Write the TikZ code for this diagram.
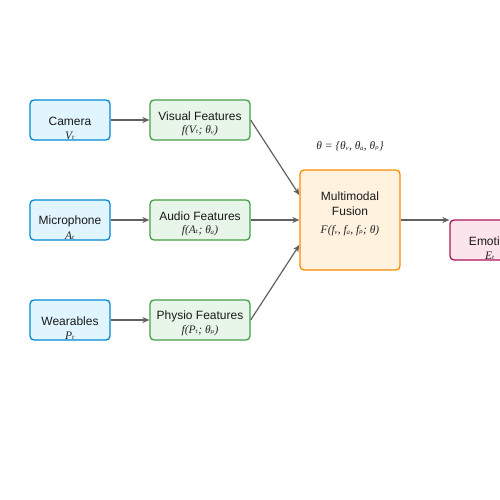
\documentclass[tikz,border=0pt]{standalone}
\usepackage{fontspec}
\setmainfont{Liberation Sans}
\newfontfamily\formfont{Liberation Serif}[ItalicFont={Liberation Serif Italic}]
\newfontfamily\subfont{DejaVu Sans}
\newcommand\subt{{\subfont\fontsize{9}{10}\selectfont ₜ}}
\newcommand\subp{{\subfont\fontsize{9}{10}\selectfont ₚ}}
\usetikzlibrary{arrows.meta}
\definecolor{inFill}{HTML}{E1F5FE}
\definecolor{inDraw}{HTML}{0288D1}
\definecolor{ftFill}{HTML}{E8F5E9}
\definecolor{ftDraw}{HTML}{43A047}
\definecolor{fuFill}{HTML}{FFF3E0}
\definecolor{fuDraw}{HTML}{FB8C00}
\definecolor{emFill}{HTML}{FCE4EC}
\definecolor{emDraw}{HTML}{AD1457}
\definecolor{arr}{HTML}{616161}
\tikzset{
  boxbase/.style={rectangle, rounded corners=4pt, line width=1.3pt, inner sep=0pt},
  inbox/.style={boxbase, draw=inDraw, fill=inFill, minimum width=80pt, minimum height=40pt},
  ftbox/.style={boxbase, draw=ftDraw, fill=ftFill, minimum width=100pt, minimum height=40pt},
  fubox/.style={boxbase, draw=fuDraw, fill=fuFill, minimum width=100pt, minimum height=100pt},
  embox/.style={boxbase, draw=emDraw, fill=emFill, minimum width=80pt, minimum height=40pt},
  lbl/.style={inner sep=0pt, font=\fontsize{12}{14}\selectfont, text=black!90},
  frm/.style={inner sep=0pt, font=\formfont\itshape\fontsize{11.5}{13}\selectfont, text=black!85},
  conn/.style={draw=arr, line width=1.2pt, -{Stealth[length=7pt,width=6pt]}}
}
\begin{document}
\begin{tikzpicture}[x=1pt,y=-1pt]
\useasboundingbox (0,0) rectangle (500,500);
\clip (0,0) rectangle (500,500);
% inputs
\node[inbox] (cam) at (70,120) {};
\node[inbox] (mic) at (70,220) {};
\node[inbox] (wear) at (70,320) {};
\node[lbl] (camT) at (70,121) {Camera};
\node[frm] (camS) at (70,136) {V\subt};
\node[lbl] (micT) at (70,221) {Microphone};
\node[frm] (micS) at (70,236) {A\subt};
\node[lbl] (wearT) at (70,321) {Wearables};
\node[frm] (wearS) at (70,336) {P\subt};
% features
\node[ftbox] (vis) at (200,120) {};
\node[ftbox] (aud) at (200,220) {};
\node[ftbox] (phy) at (200,320) {};
\node[lbl] (visT) at (200,116) {Visual Features};
\node[frm] (visS) at (200,131) {f(V\subt; θᵥ)};
\node[lbl] (audT) at (200,216) {Audio Features};
\node[frm] (audS) at (200,231) {f(A\subt; θₐ)};
\node[lbl] (phyT) at (200,316) {Physio Features};
\node[frm] (phyS) at (200,331) {f(P\subt; θ\subp)};
% fusion
\node[fubox] (fus) at (350,220) {};
\node[lbl] (fusT1) at (350,196) {Multimodal};
\node[lbl] (fusT2) at (350,211) {Fusion};
\node[frm] (fusS) at (350,231) {F(fᵥ, fₐ, f\subp; θ)};
\node[frm] (theta) at (350,146) {θ = \{θᵥ, θₐ, θ\subp\}};
% emotion
\node[embox] (emo) at (490,240) {};
\node[lbl] (emoT) at (491,241) {Emotion};
\node[frm] (emoS) at (490,256) {E\subt};
% connectors
\draw[conn] (cam.east) -- (vis.west);
\draw[conn] (mic.east) -- (aud.west);
\draw[conn] (wear.east) -- (phy.west);
\draw[conn] (vis.east) -- ([yshift=25pt]fus.west);
\draw[conn] (aud.east) -- (fus.west);
\draw[conn] (phy.east) -- ([yshift=-25pt]fus.west);
\draw[conn] (fus.east) -- (emo.west |- fus.east);
\end{tikzpicture}
\end{document}
